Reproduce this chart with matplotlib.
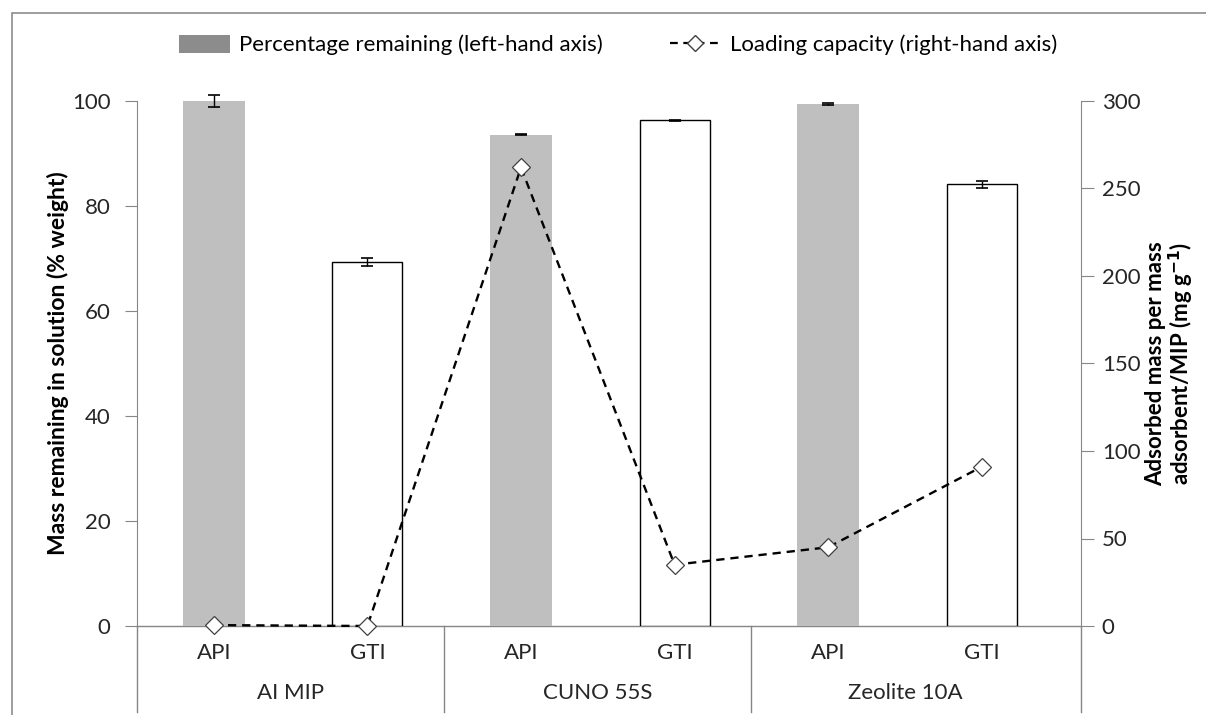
import matplotlib
matplotlib.use("Agg")
import matplotlib.pyplot as plt
from matplotlib.patches import Rectangle, Patch
from matplotlib.lines import Line2D
import numpy as np

plt.rcParams['font.family'] = ['Lato', 'DejaVu Sans']

groups = ["AI MIP", "CUNO 55S", "Zeolite 10A"]
subs = ["API", "GTI", "API", "GTI", "API", "GTI"]
pct_remaining = [100.0, 69.3, 93.6, 96.3, 99.4, 84.1]
pct_err = [1.2, 0.8, 0.15, 0.15, 0.15, 0.7]
loading = [0.5, 0.0, 262, 35, 45, 91]

W, H = 1206, 715
fig = plt.figure(figsize=(W/100, H/100), dpi=100)

# outer frame (only left/top visible in crop)
fig.patches.append(Rectangle((12/W, -1), 2, 2 - 13/H, transform=fig.transFigure,
                             fill=False, edgecolor='#8c8c8c', lw=1.2))

ax = fig.add_axes([137/W, 1 - 626/H, (1081-137)/W, (626-101)/H])
ax2 = ax.twinx()

x = np.arange(6)
xmax = 5.646
for i in range(6):
    if subs[i] == "API":
        ax.bar(x[i], pct_remaining[i], width=0.40, color='#bfbfbf', edgecolor='none', zorder=2)
    else:
        ax.bar(x[i], pct_remaining[i], width=0.455, color='white', edgecolor='black', lw=1.0, zorder=2)
    ax.errorbar(x[i], pct_remaining[i], yerr=pct_err[i], fmt='none', ecolor='black',
                elinewidth=1.0, capsize=4, capthick=1.2, zorder=3, clip_on=False)

ax2.plot(x, loading, ls=(0, (3.5, 2.5)), color='black', lw=1.7,
         marker='D', markersize=9.5, markerfacecolor='white', markeredgecolor='#404040',
         markeredgewidth=0.9, zorder=5, clip_on=False)

ax.set_xlim(-0.5, xmax)
ax.set_ylim(0, 100)
ax2.set_ylim(0, 300)
ax.set_yticks([0, 20, 40, 60, 80, 100])
ax2.set_yticks([0, 50, 100, 150, 200, 250, 300])
ax.set_xticks([])
ax2.set_xticks([])

spc = '#868686'
for a in (ax, ax2):
    a.spines['top'].set_visible(False)
    a.spines['bottom'].set_visible(False)
ax.spines['right'].set_visible(False)
ax2.spines['left'].set_visible(False)
ax.spines['left'].set_color(spc)
ax2.spines['right'].set_color(spc)
ax.tick_params(axis='y', direction='out', length=9, color=spc, labelsize=16, pad=10,
               labelcolor='#262626')
ax2.tick_params(axis='y', direction='out', length=9, color=spc, labelsize=16, pad=6,
                labelcolor='#262626')

# category axis lines
trans = ax.get_xaxis_transform()
ax.plot([-0.5, xmax], [0, 0], transform=trans, color=spc, lw=1.0, clip_on=False, zorder=1)
below = -(712-626)/(626-101)
for xb in [-0.5, 1.5, 3.5, xmax]:
    ax.plot([xb, xb], [0, below], transform=trans, color=spc, lw=1.0, clip_on=False)
sub_y = -(653-626)/(626-101)
grp_y = -(693-626)/(626-101)
for i in range(6):
    ax.text(x[i], sub_y, subs[i], transform=trans, ha='center', va='center',
            fontsize=16, color='#262626')
for g, name in enumerate(groups):
    ax.text(2*g + 0.5, grp_y, name, transform=trans, ha='center', va='center',
            fontsize=16, color='#262626')

ax.set_ylabel("Mass remaining in solution (% weight)", fontsize=16.5, fontweight='bold',
              labelpad=2)
ax2.set_ylabel("Adsorbed mass per mass\nadsorbent/MIP (mg g$^{\\mathbf{-1}}$)", fontsize=16,
               fontweight='bold', labelpad=3, linespacing=1.05)

handles = [Patch(facecolor='#8c8c8c', edgecolor='none'),
           Line2D([0], [0], ls=(0, (3.5, 2.5)), color='black', lw=1.6, marker='D', markersize=8,
                  markerfacecolor='white', markeredgecolor='#404040')]
fig.legend(handles, ["Percentage remaining (left-hand axis)", "Loading capacity (right-hand axis)"],
           loc='center', bbox_to_anchor=(618/W, 1 - 45/H), ncol=2, frameon=False, fontsize=16,
           handlelength=2.3, handleheight=0.9, columnspacing=3.0, handletextpad=0.4)

fig.savefig("out.png", dpi=100)
